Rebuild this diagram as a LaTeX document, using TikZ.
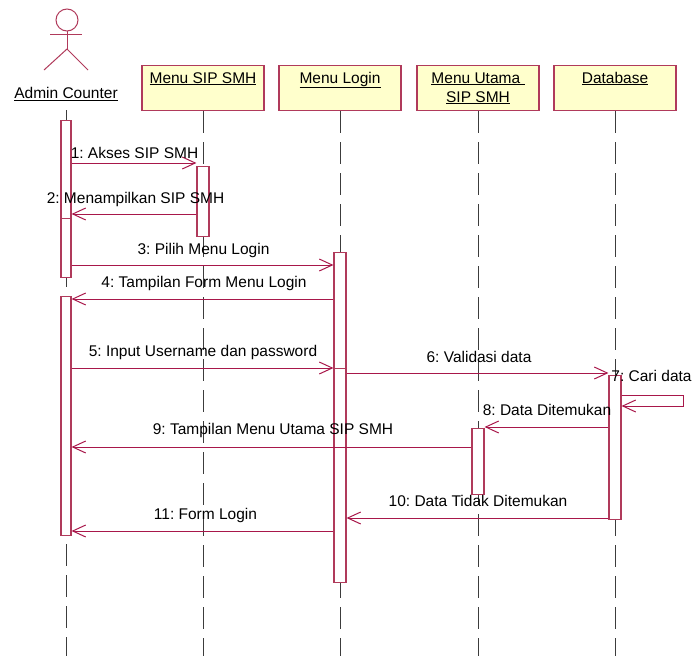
\documentclass[tikz,border=0pt]{standalone}
\usepackage{fontspec}
\setmainfont{Liberation Sans}
\usetikzlibrary{arrows.meta}
\definecolor{boxline}{RGB}{176,58,91}
\definecolor{msgline}{RGB}{168,23,74}
\definecolor{boxfill}{RGB}{255,255,204}
\definecolor{lifegray}{RGB}{60,60,60}
\frenchspacing
\begin{document}
\begin{tikzpicture}[x=1pt,y=-1pt,
  every node/.style={font=\fontsize{15.5}{19}\selectfont\frenchspacing, inner sep=0pt},
  objbox/.style={draw=boxline, fill=boxfill, line width=1.3pt, minimum width=122pt, minimum height=45pt, anchor=north},
  lifeline/.style={draw=lifegray, line width=1pt, dash pattern=on 22pt off 9pt},
  actbox/.style={draw=boxline, fill=white, line width=1.1pt, minimum width=12pt, anchor=north},
  msg/.style={draw=msgline, line width=1pt, -{Straight Barb[length=13pt,width=12pt,line width=1pt]}},
  lbl/.style={anchor=base}
]
\useasboundingbox (0,0) rectangle (694,656);

% actor
\draw[boxline, line width=1pt] (67,20) circle (11);
\draw[boxline, line width=1pt] (50,34) -- (82,34);
\draw[boxline, line width=1pt] (67,31) -- (67,49);
\draw[boxline, line width=1pt] (44,70) -- (67,49) -- (88,70);
\node (admin) at (66,94) {\underline{Admin Counter}};

% object boxes
\node[objbox] (bsip) at (203,65) {};
\node[objbox] (blog) at (340,65) {};
\node[objbox] (butm) at (478,65) {};
\node[objbox] (bdb)  at (615,65) {};
\node[anchor=base] (tsip) at (203,83) {\underline{Menu SIP SMH}};
\node[anchor=base] (tlog) at (340,83) {\underline{Menu Login}};
\node[anchor=base] (tutm) at (478,83) {\underline{Menu Utama\ }};
\node[anchor=base] (tutm2) at (478,102) {\underline{SIP SMH}};
\node[anchor=base] (tdb) at (615,83) {\underline{Database}};

% lifelines
\coordinate (adtop) at (66,110);
\draw[lifeline] (adtop) -- (adtop |- 0,656);
\draw[lifeline] (bsip.south) -- (bsip.south |- 0,656);
\draw[lifeline] (blog.south) -- (blog.south |- 0,656);
\draw[lifeline] (butm.south) -- (butm.south |- 0,656);
\draw[lifeline] (bdb.south) -- (bdb.south |- 0,656);

% activations
\node[actbox, minimum width=10pt, minimum height=98pt] (a1) at (66,120) {};
\node[actbox, minimum width=10pt, minimum height=59pt] (a2) at (66,218) {};
\node[actbox, minimum width=10pt, minimum height=239pt] (a3) at (66,296) {};
\node[actbox, minimum height=70pt] (s1) at (203,166) {};
\node[actbox, minimum height=116pt] (l1) at (340,252) {};
\node[actbox, minimum height=214pt] (l2) at (340,368) {};
\node[actbox, minimum height=144pt] (d1) at (615,375) {};
\node[actbox, minimum height=66pt] (u1) at (478,428) {};

% messages
\draw[msg] (a1.east |- 0,163) -- (s1.west |- 0,163);
\node[lbl] (m1) at (134.5,158) {1: Akses SIP SMH};

\draw[msg] (s1.west |- 0,214) -- (a1.east |- 0,214);
\node[lbl] (m2) at (135.5,203) {2: Menampilkan SIP SMH};

\draw[msg] (a2.east |- 0,265) -- (l1.west |- 0,265);
\node[lbl] (m3) at (203.5,254) {3: Pilih Menu Login};

\draw[msg] (l1.west |- 0,299) -- (a3.east |- 0,299);
\node[lbl] (m4) at (204,287) {4: Tampilan Form Menu Login};

\draw[msg] (a3.east |- 0,368) -- (l1.west |- 0,368);
\node[lbl] (m5) at (203,356) {5: Input Username dan password};

\draw[msg] (l2.east |- 0,373) -- (d1.west |- 0,373);
\node[lbl] (m6) at (479,362) {6: Validasi data};

\draw[msg] (d1.east |- 0,395) -- ++(62,0) -- ++(0,11) -- (d1.east |- 0,406);
\node[lbl] (m7) at (651.5,381) {7: Cari data};

\draw[msg] (d1.west |- 0,427) -- (u1.east |- 0,427);
\node[lbl] (m8) at (547,415) {8: Data Ditemukan};

\draw[msg] (u1.west |- 0,447) -- (a3.east |- 0,447);
\node[lbl] (m9) at (273,434) {9: Tampilan Menu Utama SIP SMH};

\draw[msg] (d1.west |- 0,518) -- (l2.east |- 0,518);
\node[lbl] (m10) at (478,506.5) {10: Data Tidak Ditemukan};

\draw[msg] (l2.west |- 0,531) -- (a3.east |- 0,531);
\node[lbl] (m11) at (205.5,519) {11: Form Login};
\end{tikzpicture}
\end{document}
